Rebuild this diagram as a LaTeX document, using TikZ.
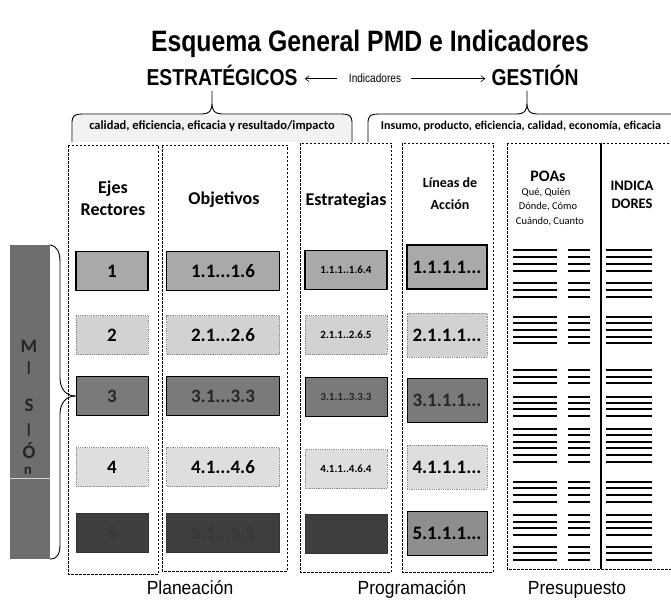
\documentclass[tikz,border=0pt]{standalone}
\usepackage{fontspec}
\setmainfont{Carlito}
\newfontfamily\narrowsans[FakeStretch=0.84]{Liberation Sans}
\newfontfamily\labelsans[FakeStretch=0.92]{Liberation Sans}
\usetikzlibrary{arrows.meta}
\newcommand\pxsize[1]{\fontsize{#1}{#1}\selectfont}
\definecolor{gA}{HTML}{A9A9A9}
\definecolor{gB}{HTML}{D2D2D2}
\definecolor{gC}{HTML}{7A7A7A}
\definecolor{gD}{HTML}{DEDEDE}
\definecolor{gE}{HTML}{3E3E3E}
\definecolor{gL}{HTML}{8E8E8E}
\definecolor{gM}{HTML}{6E6E6E}
\definecolor{braceback}{HTML}{F2F2F2}
\tikzset{
  col/.style={draw=black, line width=0.9pt, dash pattern=on 2.5pt off 1.5pt},
  cell/.style={inner sep=0pt, font=\bfseries\pxsize{19}},
  ecell/.style={cell, minimum width=72pt, minimum height=39pt},
  ocell/.style={cell, minimum width=113pt, minimum height=39pt},
  scell/.style={cell, minimum width=82pt, minimum height=39pt, font=\bfseries\pxsize{11}},
  lcell/.style={cell, minimum width=80pt, minimum height=44pt, font=\bfseries\pxsize{19}},
  rA/.style={fill=gA, draw=black, line width=1.1pt},
  rB/.style={fill=gB, draw=black!45, line width=0.8pt, densely dotted},
  rC/.style={fill=gC, draw=black, line width=1pt, text=black!85},
  rD/.style={fill=gD, draw=black!45, line width=0.8pt, densely dotted},
  rE/.style={fill=gE, draw=black!80, line width=0.8pt, text=black!78},
  rL/.style={fill=gL, draw=black, line width=1pt},
  hd/.style={anchor=base, inner sep=0pt, font=\bfseries\pxsize{18}},
  hdsmall/.style={anchor=base, inner sep=0pt, font=\bfseries\pxsize{14}},
  small/.style={anchor=base, inner sep=0pt, font=\pxsize{10.5}},
  bottomlabel/.style={anchor=base, inner sep=0pt, font=\labelsans\pxsize{19}},
  toplabel/.style={anchor=base, inner sep=0pt, font=\narrowsans\bfseries\pxsize{23}},
  brace/.style={draw=black, line width=0.9pt},
  bar/.style={draw=black, line width=2.8pt},
  misletter/.style={anchor=base, inner sep=0pt, font=\bfseries\pxsize{19}, text=black!85},
  arr/.style={draw=black, line width=0.6pt, -{Straight Barb[length=4pt,width=6pt]}}
}
\begin{document}
\begin{tikzpicture}[x=1pt,y=-1pt]
\useasboundingbox (0,0) rectangle (671,599);
\fill[white] (0,0) rectangle (671,599);

% title
\node[anchor=base, inner sep=0pt, font=\narrowsans\bfseries\pxsize{29.5}] (title) at (370,52) {Esquema General PMD e Indicadores};

% top labels
\node[toplabel] (estr) at (222,86) {ESTRATÉGICOS};
\node[anchor=base, inner sep=0pt, font=\narrowsans\pxsize{12}] (ind) at (375,83) {Indicadores};
\node[toplabel] (gest) at (535,86) {GESTIÓN};
\draw[arr, shorten <=12pt, shorten >=7pt] (ind.west) -- (ind.west -| estr.east);
\draw[arr, shorten <=10pt, shorten >=6pt] (ind.east) -- (ind.east -| gest.west);

% braces
\coordinate (t1) at (212,91);
\coordinate (t2) at (527,91);
\fill[braceback] (73,115) rectangle (351,142);
\draw[brace] (72,142) -- (72,122) .. controls (72,116) and (75,114) .. (82,114) -- (202,114)
  .. controls (209,114) and (212,111) .. (212,103) -- (t1) -- (212,103)
  .. controls (212,111) and (215,114) .. (222,114) -- (342,114)
  .. controls (349,114) and (352,116) .. (352,122) -- (352,142);
\draw[brace] (368,142) -- (368,122) .. controls (368,116) and (371,114) .. (378,114) -- (517,114)
  .. controls (524,114) and (527,111) .. (527,103) -- (t2) -- (527,103)
  .. controls (527,111) and (530,114) .. (537,114) -- (675,114);
\node[anchor=base, inner sep=0pt, font=\bfseries\pxsize{12.5}] (bt1) at (212,129) {calidad, eficiencia, eficacia y resultado/impacto};
\node[anchor=base, inner sep=0pt, font=\bfseries\pxsize{12}] (bt2) at (521,129) {Insumo, producto, eficiencia, calidad, economía, eficacia};

% columns
\draw[col] (68,145) rectangle (158,574);
\draw[col] (162,145) rectangle (287,571);
\draw[col] (300,143) rectangle (391,572);
\draw[col] (402,143) rectangle (493,572);
\draw[col] (507,143) rectangle (676,569);
\draw[line width=1.2pt] (601,143) -- (601,569);

% headers
\node[hd] (h1a) at (113,193) {Ejes};
\node[hd] (h1b) at (113,215) {Rectores};
\node[hd] (h2) at (224,204) {Objetivos};
\node[hd] (h3) at (346,205) {Estrategias};
\node[hdsmall] (h4a) at (450,187) {Líneas de};
\node[hdsmall] (h4b) at (450,209) {Acción};
\node[anchor=base, inner sep=0pt, font=\bfseries\pxsize{16}] (h5) at (548,181) {POAs};
\node[small] (h5a) at (546,195) {Qué, Quién};
\node[small] (h5b) at (548,209) {Dónde, Cómo};
\node[small] (h5c) at (550,224) {Cuándo, Cuanto};
\node[anchor=base, inner sep=0pt, font=\bfseries\pxsize{14.5}] (h6a) at (632,190) {INDICA};
\node[anchor=base, inner sep=0pt, font=\bfseries\pxsize{14.5}] (h6b) at (632,208) {DORES};

% MISION
\node[fill=gM, minimum width=40pt, minimum height=314pt, inner sep=0pt] (mis) at (30,402) {};
\draw[white!65!gray, line width=0.6pt] (10,478) -- (50,478);
\node[misletter] (m1) at (29,352) {M};
\node[misletter, font=\pxsize{20}] (m2) at (29,374) {I};
\node[misletter] (m3) at (29,411) {S};
\node[misletter, font=\pxsize{20}] (m4) at (29,436) {I};
\node[misletter] (m5) at (29,458) {Ó};
\node[misletter, font=\bfseries\pxsize{15}] (m6) at (28,474) {n};

% rows: Ejes
\node[ecell, rA] (e1) at (112,271) {1};
\node[ecell, rB] (e2) at (112,335) {2};
\node[ecell, rC] (e3) at (112,396) {3};
\node[ecell, rD] (e4) at (112,467) {4};
\node[ecell, rE] (e5) at (112,533) {5};
% Objetivos
\node[ocell, rA] (o1) at (223,271) {1.1...1.6};
\node[ocell, rB] (o2) at (223,335) {2.1...2.6};
\node[ocell, rC] (o3) at (223,396) {3.1...3.3};
\node[ocell, rD] (o4) at (223,467) {4.1...4.6};
\node[ocell, rE] (o5) at (223,533) {5.1...5.5};
% Estrategias
\node[scell, rA] (s1) at (346,270) {1.1.1..1.6.4};
\node[scell, rB] (s2) at (346,335) {2.1.1..2.6.5};
\node[scell, rC] (s3) at (346,397) {3.1.1..3.3.3};
\node[scell, rD] (s4) at (346,469) {4.1.1..4.6.4};
\node[scell, rE] (s5) at (346,534) {};
% Lineas
\node[lcell, rA] (l1) at (447,267) {1.1.1.1...};
\node[lcell, rB] (l2) at (447,335) {2.1.1.1...};
\node[lcell, rC] (l3) at (447,400) {3.1.1.1...};
\node[lcell, rD] (l4) at (447,467) {4.1.1.1...};
\node[lcell, rL] (l5) at (447,533) {5.1.1.1...};

% brace from MISION to eje 3
\draw[brace] (mis.north east) .. controls (57,246) and (60,252) .. (60,262) -- (60,378)
  .. controls (60,390) and (67,396) .. (e3.west);
\draw[brace] (e3.west) .. controls (67,396) and (60,402) .. (60,414) -- (60,545)
  .. controls (60,554) and (57,559) .. (mis.south east);

% budget bars
\foreach \yy in {250,257,264,271, 283,290,297, 317,323,330,337,343, 370,377,383,
                 397,403,409,416, 429,435,442,448,455,462, 482,488,495,502,
                 515,522,528,535, 547,553,560} {
  \draw[bar] (513,\yy) -- (557,\yy);
  \draw[bar] (568,\yy) -- (590,\yy);
  \draw[bar] (606,\yy) -- (652,\yy);
}

% bottom labels
\node[bottomlabel] (pl) at (190,594) {Planeación};
\node[bottomlabel] (pr) at (412,594) {Programación};
\node[bottomlabel] (pp) at (577,594) {Presupuesto};
\end{tikzpicture}
\end{document}
